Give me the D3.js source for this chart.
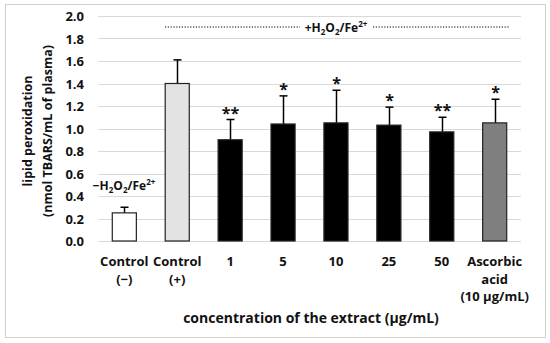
<!DOCTYPE html>
<html>
<head>
<meta charset="utf-8">
<script src="https://cdn.jsdelivr.net/npm/d3@7"></script>
<style>
  body { margin: 0; background: #fff; }
  text { font-family: "Open Sans", "Noto Sans", sans-serif; font-weight: bold; fill: #111; }
</style>
</head>
<body>
<div id="chart"></div>
<script>
var categories = ['c-', 'c+', '1', '5', '10', '25', '50', 'aa'];
var categoryLabels = [['Control', '(\u2212)'], ['Control', '(+)'], ['1'], ['5'], ['10'], ['25'], ['50'], ['Ascorbic', 'acid', '(10 \u00b5g/mL)']];
var means = [0.25, 1.40, 0.90, 1.04, 1.05, 1.03, 0.97, 1.05];
var errors = [0.05, 0.21, 0.18, 0.25, 0.29, 0.16, 0.13, 0.21];
var stars = ['', '', '**', '*', '*', '*', '**', '*'];
var fills = ['#ffffff', '#e3e3e3', '#000000', '#000000', '#000000', '#000000', '#000000', '#7f7f7f'];
var yTicks = [0, 0.2, 0.4, 0.6, 0.8, 1.0, 1.2, 1.4, 1.6, 1.8, 2.0];

var width = 550, height = 343;
var svg = d3.select('#chart').append('svg')
  .attr('width', width)
  .attr('height', height);

// outer frame
svg.append('rect')
  .attr('x', 5.5).attr('y', 4.5)
  .attr('width', 540).attr('height', 333)
  .attr('fill', '#fff')
  .attr('stroke', '#d0d0d0');

var x = d3.scaleBand().domain(categories).range([98, 521]).paddingInner(0.545).paddingOuter(0.27);
var y = d3.scaleLinear().domain([0, 2]).range([241, 16]);

// gridlines
svg.append('g').selectAll('line')
  .data(yTicks)
  .enter()
  .append('line')
  .attr('x1', 98).attr('x2', 521)
  .attr('y1', function (d) { return Math.round(y(d)) + 0.5; })
  .attr('y2', function (d) { return Math.round(y(d)) + 0.5; })
  .attr('stroke', '#d9d9d9')
  .attr('stroke-width', 1);

// y axis labels
var yAxis = d3.axisLeft(y).tickValues(yTicks).tickSize(0).tickPadding(0)
  .tickFormat(d3.format('.1f'));
var yg = svg.append('g').attr('transform', 'translate(84,0)').call(yAxis);
yg.select('.domain').remove();
yg.selectAll('text').style('font-size', '13px').attr('dy', '0.35em');

// error bars (upper only)
var eg = svg.append('g');
categories.forEach(function (c, i) {
  var cx = Math.round(x(c) + x.bandwidth() / 2) + 0.5;
  var top = y(means[i] + errors[i]);
  eg.append('line')
    .attr('x1', cx).attr('x2', cx)
    .attr('y1', y(means[i])).attr('y2', top)
    .attr('stroke', '#000').attr('stroke-width', 1.5);
  eg.append('line')
    .attr('x1', cx - 4).attr('x2', cx + 4)
    .attr('y1', top).attr('y2', top)
    .attr('stroke', '#000').attr('stroke-width', 1.5);
  if (stars[i]) {
    eg.append('text')
      .attr('x', cx).attr('y', top - 1)
      .attr('text-anchor', 'middle')
      .style('font-size', '16px')
      .text(stars[i]);
  }
});

// bars
svg.append('g').selectAll('rect')
  .data(categories)
  .enter()
  .append('rect')
  .attr('x', function (d) { return x(d); })
  .attr('y', function (d, i) { return y(means[i]); })
  .attr('width', x.bandwidth())
  .attr('height', function (d, i) { return y(0) - y(means[i]); })
  .attr('fill', function (d, i) { return fills[i]; })
  .attr('stroke', '#222')
  .attr('stroke-width', 1.2);

// category labels
var lg = svg.append('g');
categories.forEach(function (c, i) {
  var t = lg.append('text')
    .attr('x', x(c) + x.bandwidth() / 2)
    .attr('y', 266)
    .attr('text-anchor', 'middle')
    .style('font-size', '13px');
  categoryLabels[i].forEach(function (line, j) {
    t.append('tspan')
      .attr('x', x(c) + x.bandwidth() / 2)
      .attr('dy', j === 0 ? 0 : 17.5)
      .text(line);
  });
});

// axis titles
svg.append('text')
  .attr('x', 311).attr('y', 323)
  .attr('text-anchor', 'middle')
  .style('font-size', '14px')
  .text('concentration of the extract (\u00b5g/mL)');

var yt = svg.append('text')
  .attr('transform', 'translate(32,131) rotate(-90)')
  .attr('text-anchor', 'middle')
  .style('font-size', '12.5px');
yt.append('tspan').attr('x', 0).attr('dy', 0).text('lipid peroxidation');
yt.append('tspan').attr('x', 0).attr('dy', 20).text('(nmol TBARS/mL of plasma)');

// +H2O2/Fe2+ annotation with dotted line
var annY = 27;
svg.append('line')
  .attr('x1', 165).attr('x2', 300).attr('y1', annY).attr('y2', annY)
  .attr('stroke', '#000').attr('stroke-width', 1.2).attr('stroke-dasharray', '1.2,1.6');
svg.append('line')
  .attr('x1', 373).attr('x2', 509).attr('y1', annY).attr('y2', annY)
  .attr('stroke', '#000').attr('stroke-width', 1.2).attr('stroke-dasharray', '1.2,1.6');

function addChem(sign, cx, cy) {
  var t = svg.append('text')
    .attr('x', cx).attr('y', cy)
    .attr('text-anchor', 'middle')
    .style('font-size', '12px');
  t.append('tspan').text(sign + 'H');
  t.append('tspan').attr('dy', 3).style('font-size', '8px').text('2');
  t.append('tspan').attr('dy', -3).text('O');
  t.append('tspan').attr('dy', 3).style('font-size', '8px').text('2');
  t.append('tspan').attr('dy', -3).text('/Fe');
  t.append('tspan').attr('dy', -5).style('font-size', '8px').text('2+');
  return t;
}
addChem('+', 336, 32);
addChem('\u2212', 124, 190);
</script>
</body>
</html>
